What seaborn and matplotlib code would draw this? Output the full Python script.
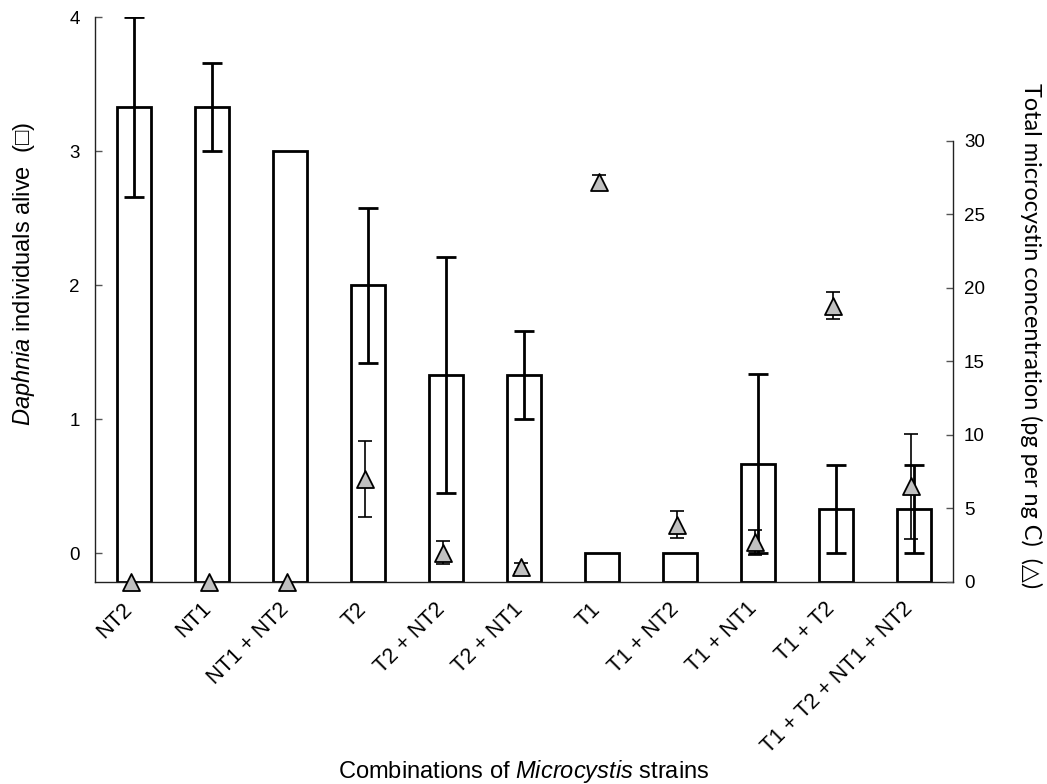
import numpy as np
import matplotlib
matplotlib.use("Agg")
import matplotlib.pyplot as plt
import matplotlib.transforms as mtransforms
import seaborn as sns

# Strain combinations offered to Daphnia
strains = ["NT2", "NT1", "NT1 + NT2", "T2", "T2 + NT2", "T2 + NT1",
           "T1", "T1 + NT2", "T1 + NT1", "T1 + T2", "T1 + T2 + NT1 + NT2"]

# Daphnia individuals alive (mean and error)
daphnia_alive = [3.33, 3.33, 3.0, 2.0, 1.33, 1.33, 0.0, 0.0, 0.67, 0.33, 0.33]
daphnia_err = [0.67, 0.33, 0.0, 0.58, 0.88, 0.33, 0.0, 0.0, 0.67, 0.33, 0.33]

# Total microcystin concentration, pg per ng C (mean and error)
microcystin = [0.0, 0.0, 0.0, 7.0, 2.0, 1.0, 27.2, 3.9, 2.7, 18.8, 6.5]
microcystin_err = [0.0, 0.0, 0.0, 2.6, 0.8, 0.3, 0.5, 0.9, 0.85, 0.9, 3.6]

left_ticks = [0, 1, 2, 3, 4]
right_ticks = [0, 5, 10, 15, 20, 25, 30]

sns.set_style("white")
plt.rcParams["font.family"] = ["Liberation Sans", "DejaVu Sans"]
plt.rcParams["mathtext.fontset"] = "custom"
plt.rcParams["mathtext.rm"] = "Liberation Sans"
plt.rcParams["mathtext.it"] = "Liberation Sans:italic"
plt.rcParams["text.color"] = "black"
plt.rcParams["axes.labelcolor"] = "black"
plt.rcParams["xtick.labelcolor"] = "black"
plt.rcParams["ytick.labelcolor"] = "black"

W, H = 1047, 784
fig = plt.figure(figsize=(W / 100, H / 100), dpi=100)
ax = fig.add_axes([95 / W, 1 - 582 / H, 858 / W, (582 - 17.3) / H])

left_min, left_max = -0.214, 4.0
right_min, right_max = 0.0, 38.41

x = np.arange(len(strains))

# Open bars for surviving Daphnia, rising from the floor of the plot
sns.barplot(x=strains, y=daphnia_alive, order=strains, color="white",
            saturation=1, edgecolor="black", linewidth=2, width=0.44,
            errorbar=None, ax=ax)
for patch, v in zip(ax.patches, daphnia_alive):
    patch.set_y(left_min)
    patch.set_height(v - left_min)

err_a = np.array(daphnia_err)
keep = err_a > 0
ax.errorbar(x[keep], np.array(daphnia_alive)[keep], yerr=err_a[keep],
            fmt="none", ecolor="black", elinewidth=2, capsize=7, capthick=2,
            zorder=3)

ax.set_xlim(-0.5, len(strains) - 0.5)
ax.set_ylim(left_min, left_max)

# Microcystin on the secondary axis
ax2 = ax.twinx()
xt = x - 0.04
err_m = np.array(microcystin_err)
keep_m = err_m > 0
ax2.errorbar(xt[keep_m], np.array(microcystin)[keep_m], yerr=err_m[keep_m],
             fmt="none", ecolor="black", elinewidth=1.2, capsize=5,
             capthick=1.2, zorder=3)
sns.scatterplot(x=xt, y=microcystin, marker="^", s=150, color="#c0c0c0",
                edgecolor="black", linewidth=1.3, ax=ax2, zorder=4,
                clip_on=False, legend=False)
ax2.set_ylim(right_min, right_max)
ax.set_xlim(-0.5, len(strains) - 0.5)

# Spines
for s in ["top", "right"]:
    ax.spines[s].set_visible(False)
for s in ["top", "left", "bottom"]:
    ax2.spines[s].set_visible(False)
ax2.spines["right"].set_bounds(0, 30)
for sp in [ax.spines["left"], ax.spines["bottom"], ax2.spines["right"]]:
    sp.set_color("#222222")
    sp.set_linewidth(1.0)

# x axis: labels at categories, small inward ticks between them
ax.set_xticks(x)
ax.set_xticklabels(strains, rotation=45, ha="right", va="center",
                   rotation_mode="anchor", fontsize=15.5)
ax.tick_params(axis="x", which="major", length=0, pad=14, labelcolor="black")
shift = mtransforms.ScaledTranslation(-0.045, -0.045, fig.dpi_scale_trans)
for lab in ax.get_xticklabels():
    lab.set_transform(lab.get_transform() + shift)
ax.set_xticks(np.arange(0.5, len(strains) - 0.5, 1), minor=True)
ax.tick_params(axis="x", which="minor", direction="in", length=5,
               width=1, color="#777777")

ax.set_yticks(left_ticks)
ax.set_yticklabels([str(t) for t in left_ticks])
ax.tick_params(axis="y", direction="in", length=5, width=1, color="#555555",
               pad=11, labelsize=13.5, labelcolor="black")

ax2.set_yticks(right_ticks)
ax2.set_yticklabels([str(t) for t in right_ticks])
ax2.tick_params(axis="y", direction="in", length=5, width=1, color="#555555",
                pad=8, labelsize=13.5, labelcolor="black")

# Axis titles
ax.set_xlabel("Combinations of $\\it{Microcystis}$ strains", fontsize=17)
ax.xaxis.set_label_coords(0.5, -0.335)
ax.xaxis.label.set_va("center")

ax.set_ylabel("$\\it{Daphnia}$ individuals alive  (□)", fontsize=17)
ax.yaxis.set_label_coords(-0.083, 0.546)
ax.yaxis.label.set_va("center")

ax2.set_ylabel("Total microcystin concentration (pg per ng C)  (△)",
               rotation=270, fontsize=16.8, family=["Lato", "DejaVu Sans"])
ax2.yaxis.set_label_coords(1.091, 0.437)
ax2.yaxis.label.set_va("center")
ax2.yaxis.label.set_ha("center")

fig.savefig("out.png", dpi=100, facecolor="white")
